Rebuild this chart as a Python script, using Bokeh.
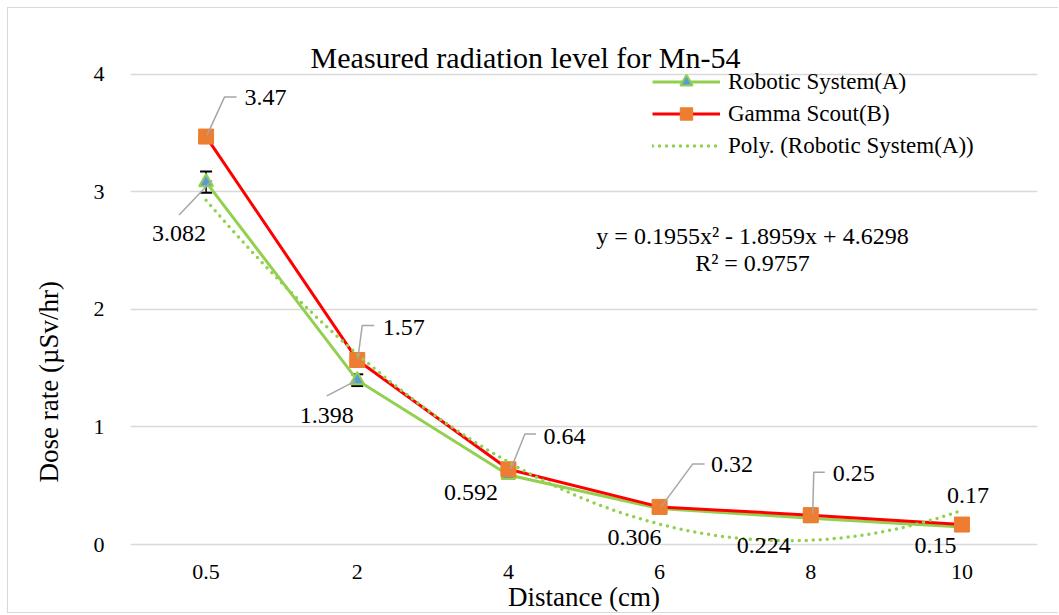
import numpy as np
from bokeh.plotting import figure
from bokeh.models import (ColumnDataSource, FixedTicker, Range1d, Legend, LegendItem,
                          Whisker, Label, TeeHead, Title)
from bokeh.core.properties import value
from bokeh.embed import file_html
from bokeh.resources import INLINE

# ---------------- data ----------------
distances = ["0.5", "2", "4", "6", "8", "10"]
robotic = [3.082, 1.398, 0.592, 0.306, 0.224, 0.15]
robotic_err = [0.09, 0.05, 0.02, 0.02, 0.02, 0.02]
gamma = [3.47, 1.57, 0.64, 0.32, 0.25, 0.17]
robotic_labels = ["3.082", "1.398", "0.592", "0.306", "0.224", "0.15"]
gamma_labels = ["3.47", "1.57", "0.64", "0.32", "0.25", "0.17"]
y_ticks = [0, 1, 2, 3, 4]
title_text = "Measured radiation level for Mn-54"
x_title = "Distance (cm)"
y_title = "Dose rate (\u00b5Sv/hr)"
eq_text = "y = 0.1955x\u00b2 - 1.8959x + 4.6298"
r2_text = "R\u00b2 = 0.9757"

# ---------------- layout / style ----------------
FONT = "Liberation Serif"
ORG = 8                      # page position of the canvas origin
W, H = 1051, 606
ML, MR, MT, MB = 122, 22, 0, 57
FW = W - ML - MR
FH = H - MT - MB
PXX = FW / 6.0               # pixels per category
PXY = 118.0                  # pixels per unit of dose rate
FL, FT = ORG + ML, ORG + MT  # frame left / top on the page
Y_ZERO = 546                 # page y of value 0
X0 = 0.5
X1 = X0 + FW / PXX
Y1 = (Y_ZERO - FT) / PXY
Y0 = Y1 - FH / PXY

GREEN = "#92D050"
RED = "#FF0000"
ORANGE = "#ED7D31"
BLUE = "#5B9BD5"
GRAY = "#A6A6A6"
GRID = "#D9D9D9"

# pixel offsets of the data labels (centre of text relative to point)
rob_dx = [-27, -30.5, -37.5, -25, -47, -26.5]
rob_dy = [51, 35, 18, 28.6, 27.4, 19]
gam_dx = [59.5, 46.5, 56, 72.5, 43, 6]
gam_dy = [-39.5, -32.7, -33, -42, -41.5, -29]
# leader lines: (series, index, list of pixel offsets)
leaders = [
    ("g", 0, [(1, -1.5), (18.5, -39.8), (30.5, -39.8)]),
    ("r", 0, [(6, -2), (-27, 33)]),
    ("g", 1, [(0.5, -0.7), (5, -34.7), (17, -34.7)]),
    ("r", 1, [(-1.5, 0.7), (-30.5, 15.7)]),
    ("g", 2, [(2.5, -0.5), (16.5, -35.5), (27.5, -35.5)]),
    ("g", 3, [(1.5, 0), (33, -43), (45, -43)]),
    ("g", 4, [(2, -1.5), (3, -43), (14, -43)]),
]


def dx_page(px):
    return X0 + (px - FL) / PXX


def dy_page(py):
    return Y1 - (py - FT) / PXY


idx = list(range(1, len(distances) + 1))

p = figure(width=W, height=H, x_range=Range1d(X0, X1), y_range=Range1d(Y0, Y1),
           output_backend="svg", toolbar_location=None,
           min_border_left=ML, min_border_right=MR, min_border_top=MT, min_border_bottom=MB)
p.styles = {"margin-left": "7px", "margin-top": "7px",
            "border-left": "1px solid " + GRID, "border-top": "1px solid " + GRID,
            "border-bottom": "1px solid " + GRID}
p.outline_line_color = None
p.background_fill_color = "white"
p.border_fill_color = "white"

p.xgrid.grid_line_color = None
p.ygrid.grid_line_color = GRID
p.ygrid.grid_line_width = 1.5
p.ygrid.ticker = FixedTicker(ticks=y_ticks)

p.xaxis.ticker = FixedTicker(ticks=idx)
p.xaxis.major_label_overrides = {i: d for i, d in zip(idx, distances)}
p.yaxis.ticker = FixedTicker(ticks=y_ticks)
for ax in (p.xaxis[0], p.yaxis[0]):
    ax.axis_line_color = None
    ax.major_tick_line_color = None
    ax.minor_tick_line_color = None
    ax.major_label_text_font = FONT
    ax.major_label_text_font_size = "22px"
    ax.major_label_text_color = "black"
    ax.axis_label_text_font = FONT
    ax.axis_label_text_font_size = "27px"
    ax.axis_label_text_font_style = "normal"
    ax.axis_label_text_color = "black"
p.xaxis.axis_label = x_title
p.xaxis.major_label_standoff = 3
p.xaxis.axis_label_standoff = 0
p.yaxis.major_label_standoff = 20

# y-axis title as a side title (so that it can sit where the reference has it)
ytitle = Title(text=y_title, align="left", offset=73, vertical_align="top",
               standoff=50, text_font=FONT, text_font_size="27px",
               text_font_style="normal", text_color="black")
p.add_layout(ytitle, "left")

src = ColumnDataSource(dict(
    x=idx, rob=robotic, gam=gamma,
    upper=[v + e for v, e in zip(robotic, robotic_err)],
    lower=[v - e for v, e in zip(robotic, robotic_err)],
    rob_lab=robotic_labels, gam_lab=gamma_labels,
    rob_dx=rob_dx, rob_dy=rob_dy, gam_dx=gam_dx, gam_dy=gam_dy,
))

# series A
r_rob_line = p.line("x", "rob", source=src, line_color=GREEN, line_width=3)
whisk = Whisker(base="x", upper="upper", lower="lower", source=src,
                line_color="black", line_width=1.5,
                upper_head=TeeHead(size=12, line_color="black", line_width=2),
                lower_head=TeeHead(size=12, line_color="black", line_width=2))
p.add_layout(whisk)
r_rob_pts = p.scatter("x", "rob", source=src, marker="triangle", size=14,
                      fill_color=BLUE, line_color=GREEN, line_width=2)
# series B
r_gam_line = p.line("x", "gam", source=src, line_color=RED, line_width=3)
r_gam_pts = p.scatter("x", "gam", source=src, marker="square", size=15,
                      fill_color=ORANGE, line_color=ORANGE)

# polynomial trendline (order 2) fitted to series A
coef = np.polyfit(idx, robotic, 2)
tx = np.linspace(idx[0], idx[-1], 200)
ty = np.polyval(coef, tx)
r_trend = p.line(tx, ty, line_color=GREEN, line_width=3.5, line_dash="0 7", line_cap="round")

# leader lines
vals = {"g": gamma, "r": robotic}
lx, ly = [], []
for s, i, pts in leaders:
    lx.append([idx[i] + dx / PXX for dx, dy in pts])
    ly.append([vals[s][i] - dy / PXY for dx, dy in pts])
p.multi_line(lx, ly, line_color=GRAY, line_width=1.5)

# data labels
common = dict(text_font=value(FONT), text_font_size="24px", text_color="black",
              text_align="center", text_baseline="middle")
p.text(x="x", y="rob", text="rob_lab", x_offset="rob_dx", y_offset="rob_dy", source=src, **common)
p.text(x="x", y="gam", text="gam_lab", x_offset="gam_dx", y_offset="gam_dy", source=src, **common)

# chart title and trendline equation
p.add_layout(Label(x=dx_page(525), y=dy_page(57), text=title_text, text_font=FONT,
                   text_font_size="30px", text_align="center", text_baseline="alphabetic",
                   text_color="black"))
p.add_layout(Label(x=dx_page(752), y=dy_page(236), text=eq_text, text_font=FONT,
                   text_font_size="24px", text_align="center", text_baseline="alphabetic",
                   text_color="black"))
p.add_layout(Label(x=dx_page(752), y=dy_page(263), text=r2_text, text_font=FONT,
                   text_font_size="24px", text_align="center", text_baseline="alphabetic",
                   text_color="black"))

legend = Legend(items=[
    LegendItem(label="Robotic System(A)", renderers=[r_rob_line, r_rob_pts]),
    LegendItem(label="Gamma Scout(B)", renderers=[r_gam_line, r_gam_pts]),
    LegendItem(label="Poly. (Robotic System(A))", renderers=[r_trend]),
], location=(652 - FL, (FT + FH) - 163))
legend.label_text_font = FONT
legend.label_text_font_size = "23px"
legend.label_text_color = "black"
legend.label_height = 31
legend.glyph_height = 31
legend.glyph_width = 68
legend.label_standoff = 8
legend.spacing = 1
legend.padding = 0
legend.margin = 0
legend.border_line_color = None
legend.background_fill_alpha = 0
p.add_layout(legend)

open("out.html", "w").write(file_html(p, INLINE))
